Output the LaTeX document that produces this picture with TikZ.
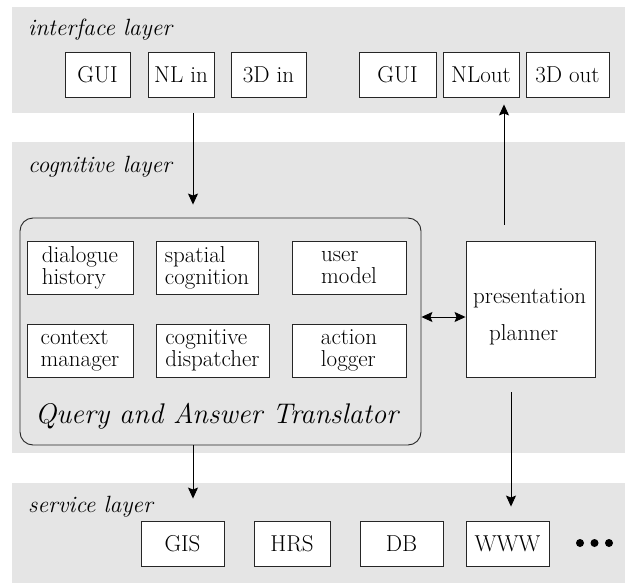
\documentclass[tikz,border=0pt]{standalone}
\usetikzlibrary{arrows.meta}
\tikzset{
  band/.style={fill=black!10, draw=none},
  box/.style={draw=black!85, fill=white, line width=0.9pt, inner sep=0pt, align=left,
    font=\fontsize{23}{22}\selectfont},
  qatbox/.style={draw=black!85, line width=0.9pt, rounded corners=13pt, inner sep=0pt},
  layerlabel/.style={anchor=base west, inner sep=0pt, font=\fontsize{23.5}{28}\selectfont\itshape},
  plain/.style={anchor=base west, inner sep=0pt, font=\fontsize{23}{28}\selectfont},
  arr/.style={line width=0.9pt, -{Stealth[length=11pt,width=10pt,inset=2pt]}},
  darr/.style={line width=0.9pt, {Stealth[length=11pt,width=10pt,inset=2pt]}-{Stealth[length=11pt,width=10pt,inset=2pt]}}
}
\begin{document}
\begin{tikzpicture}[x=1pt,y=-1pt]
\useasboundingbox (0,0) rectangle (625,584);
% bands
\fill[band] (12,7) rectangle (625,113);
\fill[band] (12,142) rectangle (625,453);
\fill[band] (12,483) rectangle (625,583);
% layer labels
\node[layerlabel] (lint) at (28,35) {interface layer};
\node[layerlabel] (lcog) at (28,172) {cognitive layer};
\node[layerlabel] (lser) at (28,512) {service layer};
% interface boxes
\node[box, minimum width=65pt, minimum height=45pt] (gui1) at (97.5,74.5) {GUI};
\node[box, minimum width=66pt, minimum height=45pt] (nlin) at (181,74.5) {NL in};
\node[box, minimum width=75pt, minimum height=45pt] (tdin) at (268.5,74.5) {3D in};
\node[box, minimum width=77pt, minimum height=45pt] (gui2) at (397.5,74.5) {GUI};
\node[box, minimum width=76pt, minimum height=45pt] (nlout) at (481,74.5) {NLout};
\node[box, minimum width=83pt, minimum height=45pt] (tdout) at (567.5,74.5) {3D out};
% query and answer translator
\node[qatbox, minimum width=401pt, minimum height=227pt] (qat) at (220.5,331.5) {};
\node[anchor=base, inner sep=0pt, font=\fontsize{28.4}{30}\selectfont\itshape] (qatl) at (216.5,423) {Query and Answer Translator};
\node[box, minimum width=106pt, minimum height=53pt] (dh) at (80,267.5) {dialogue\\history};
\node[box, minimum width=102pt, minimum height=53pt] (sc) at (207,267.5) {spatial\\cognition};
\node[box, minimum width=114pt, minimum height=53pt] (um) at (349,267.5) {user\\model};
\node[box, minimum width=106pt, minimum height=53pt] (cm) at (80,350.5) {context\\manager};
\node[box, minimum width=113pt, minimum height=53pt] (cd) at (212.5,350.5) {cognitive\\dispatcher};
\node[box, minimum width=114pt, minimum height=53pt] (al) at (349,350.5) {action\\logger};
% presentation planner
\node[box, minimum width=129pt, minimum height=136pt] (planner) at (530.5,309) {};
\node[plain] (pl1) at (473,303) {presentation};
\node[plain] (pl2) at (489,340) {planner};
% service boxes
\node[box, minimum width=83pt, minimum height=45pt] (gis) at (182.5,543.5) {GIS};
\node[box, minimum width=76pt, minimum height=45pt] (hrs) at (292,543.5) {HRS};
\node[box, minimum width=83pt, minimum height=45pt] (db) at (401.5,543.5) {DB};
\node[box, minimum width=83pt, minimum height=45pt] (www) at (507.5,543.5) {WWW};
\fill (580,543) circle (4pt) (594.5,543) circle (4pt) (609,543) circle (4pt);
% connector coordinates
\coordinate (xa) at (193,0);
\coordinate (xb) at (504,0);
\coordinate (xd) at (511,0);
\coordinate (yc) at (0,317);
% connectors
\draw[arr, shorten <=16pt, shorten >=13pt] (nlin.south -| xa) -- (qat.north -| xa);
\draw[arr, shorten <=16pt, shorten >=7pt] (planner.north -| xb) -- (nlout.south -| xb);
\draw[darr] (qat.east |- yc) -- (planner.west |- yc);
\draw[arr, shorten >=22pt] (qat.south -| xa) -- (gis.north -| xa);
\draw[arr, shorten <=15pt, shorten >=14pt] (planner.south -| xd) -- (www.north -| xd);
\end{tikzpicture}
\end{document}
